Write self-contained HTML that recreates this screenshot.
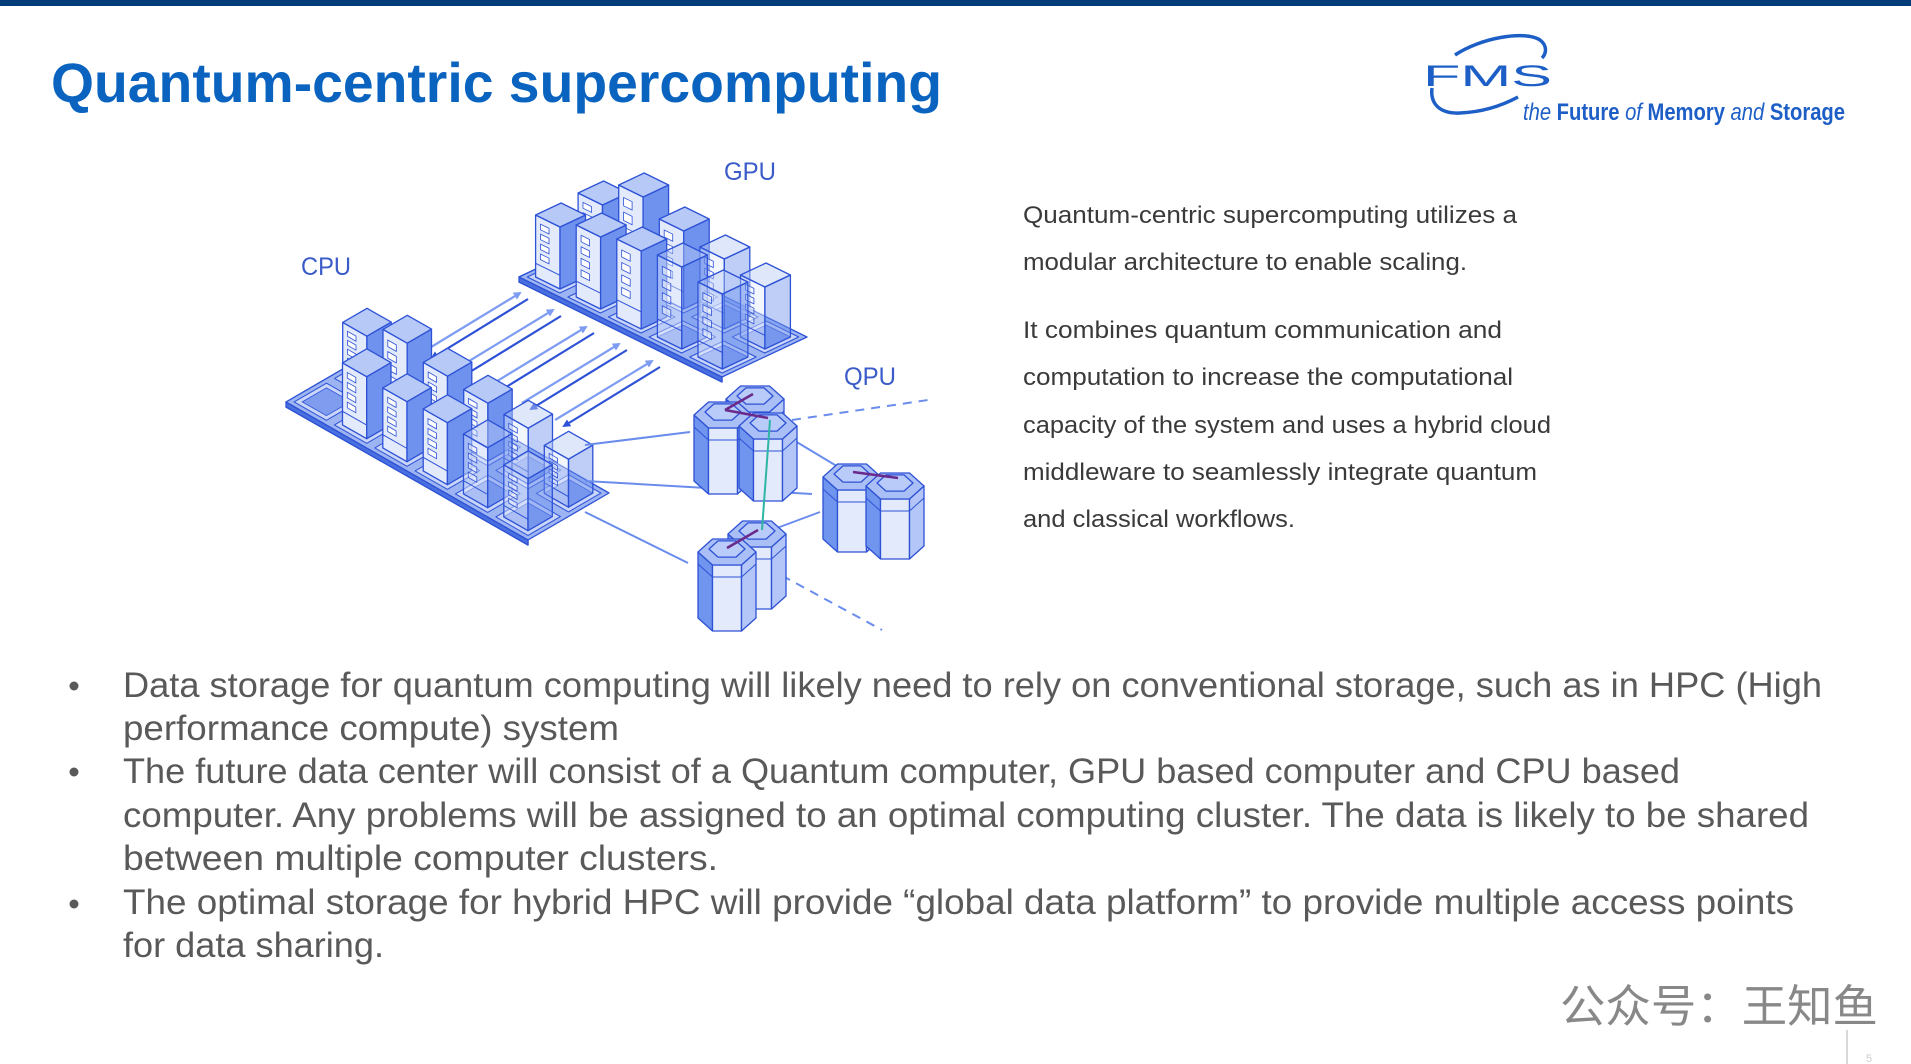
<!DOCTYPE html>
<html><head><meta charset="utf-8"><style>
html,body{margin:0;padding:0;background:#fff;}
svg{display:block;}
</style></head><body>
<svg id="s" width="1911" height="1064" viewBox="0 0 1911 1064" xmlns="http://www.w3.org/2000/svg" font-family="Liberation Sans, sans-serif">
<rect width="1911" height="1064" fill="#fff"/>
<rect x="0" y="0" width="1911" height="6" fill="#003c78"/>
<text x="51" y="102" font-size="56" font-weight="bold" fill="#0a64bf" textLength="891" lengthAdjust="spacingAndGlyphs">Quantum-centric supercomputing</text>
<!-- logo -->
<path d="M1455 55 C1480 38 1525 30 1540 40 C1548 46 1546 54 1542 58" fill="none" stroke="#1d5fc6" stroke-width="3.5"/>
<path d="M1432 88 C1430 104 1440 114 1460 113 C1485 112 1505 104 1518 97" fill="none" stroke="#1d5fc6" stroke-width="3.5"/>
<text x="1423" y="86" font-size="30" fill="#1d5fc6" textLength="129" lengthAdjust="spacingAndGlyphs">FMS</text>
<text x="1523" y="120" font-size="24" fill="#1d5fc6" textLength="322" lengthAdjust="spacingAndGlyphs"><tspan font-style="italic">the </tspan><tspan font-weight="bold">Future </tspan><tspan font-style="italic">of </tspan><tspan font-weight="bold">Memory </tspan><tspan font-style="italic">and </tspan><tspan font-weight="bold">Storage</tspan></text>
<!-- labels -->
<g font-size="25" fill="#3a5bc8">
<text x="724" y="180" textLength="52" lengthAdjust="spacingAndGlyphs">GPU</text>
<text x="301" y="275" textLength="50" lengthAdjust="spacingAndGlyphs">CPU</text>
<text x="844" y="385" textLength="52" lengthAdjust="spacingAndGlyphs">QPU</text>
</g>
<g id="diag"></g>
<!-- right paragraph -->
<g font-size="24" fill="#3a3a3a">
<text x="1023" y="223" textLength="494" lengthAdjust="spacingAndGlyphs">Quantum-centric supercomputing utilizes a</text>
<text x="1023" y="270" textLength="444" lengthAdjust="spacingAndGlyphs">modular architecture to enable scaling.</text>
<text x="1023" y="338" textLength="479" lengthAdjust="spacingAndGlyphs">It combines quantum communication and</text>
<text x="1023" y="385" textLength="490" lengthAdjust="spacingAndGlyphs">computation to increase the computational</text>
<text x="1023" y="433" textLength="528" lengthAdjust="spacingAndGlyphs">capacity of the system and uses a hybrid cloud</text>
<text x="1023" y="480" textLength="514" lengthAdjust="spacingAndGlyphs">middleware to seamlessly integrate quantum</text>
<text x="1023" y="527" textLength="272" lengthAdjust="spacingAndGlyphs">and classical workflows.</text>
</g>
<!-- bullets -->
<g fill="#595959">
<circle cx="74" cy="686" r="4.5"/><circle cx="74" cy="772" r="4.5"/><circle cx="74" cy="904" r="4.5"/>
<g font-size="35">
<text x="123" y="697" textLength="1699" lengthAdjust="spacingAndGlyphs">Data storage for quantum computing will likely need to rely on conventional storage, such as in HPC (High</text>
<text x="123" y="740" textLength="496" lengthAdjust="spacingAndGlyphs">performance compute) system</text>
<text x="123" y="783" textLength="1557" lengthAdjust="spacingAndGlyphs">The future data center will consist of a Quantum computer, GPU based computer and CPU based</text>
<text x="123" y="827" textLength="1686" lengthAdjust="spacingAndGlyphs">computer. Any problems will be assigned to an optimal computing cluster. The data is likely to be shared</text>
<text x="123" y="870" textLength="595" lengthAdjust="spacingAndGlyphs">between multiple computer clusters.</text>
<text x="123" y="914" textLength="1671" lengthAdjust="spacingAndGlyphs">The optimal storage for hybrid HPC will provide “global data platform” to provide multiple access points</text>
<text x="123" y="957" textLength="261" lengthAdjust="spacingAndGlyphs">for data sharing.</text>
</g></g>
<text x="1560" y="1022" font-size="45" fill="#888" font-family="Liberation Sans, Noto Sans CJK SC, sans-serif" textLength="318" lengthAdjust="spacingAndGlyphs">公众号：王知鱼</text>
<line x1="1847" y1="1030" x2="1847" y2="1064" stroke="#ccc" stroke-width="1.5"/>
<text x="1866" y="1062" font-size="11" fill="#ccc">5</text>
</svg>
<script>
var g=document.getElementById('diag'),h='';
var S='#2e52d6';
function P(pts){return pts.map(function(p){return p[0].toFixed(1)+','+p[1].toFixed(1)}).join(' ');}
function poly(pts,fill,op,sw){h+='<polygon points="'+P(pts)+'" fill="'+fill+'" fill-opacity="'+(op==null?1:op)+'" stroke="'+S+'" stroke-width="'+(sw||1.3)+'" stroke-linejoin="round"/>';}
function add(p,v,k){return [p[0]+v[0]*k,p[1]+v[1]*k];}
function platform(L,A,B,nA,nB){
 var c=[L,add(L,A,1),add(add(L,A,1),B,1),add(L,B,1)];
 var d=c.map(function(p){return [p[0],p[1]+5];});
 poly([c[3],c[0],c[1],d[1],d[0],d[3]].slice(0,6),'#5b80e8');
 poly([c[0],c[1],d[1],d[0]],'#4a70e0');
 poly(c,'#9db4f3');
 for(var i=0;i<nA;i++)for(var j=0;j<nB;j++){
  var o=add(add(L,A,i/nA),B,j/nB),a=[A[0]/nA,A[1]/nA],b=[B[0]/nB,B[1]/nB];
  var q=[add(add(o,a,.1),b,.1),add(add(o,a,.9),b,.1),add(add(o,a,.9),b,.9),add(add(o,a,.1),b,.9)];
  poly(q,'#c9d6f9',1,1);
  var r=[add(add(o,a,.2),b,.2),add(add(o,a,.8),b,.2),add(add(o,a,.8),b,.8),add(add(o,a,.2),b,.8)];
  poly(r,'#7f9cef',1,0.8);
 }
}
function tower(c,a,b,H,op){
 var p1=add(add(c,a,-1),b,-1),p2=add(add(c,a,1),b,-1),p3=add(add(c,a,1),b,1),p4=add(add(c,a,-1),b,1);
 function up(p){return [p[0],p[1]-H];}
 poly([p1,p2,up(p2),up(p1)],'#e3eafc',op);
 poly([p2,p3,up(p3),up(p2)],'#6f92ee',op);
 poly([up(p1),up(p2),up(p3),up(p4)],'#b7c9f7',op);
 var k=0.22;
 h+='<line x1="'+p1[0]+'" y1="'+(p1[1]-H*k)+'" x2="'+p2[0]+'" y2="'+(p2[1]-H*k)+'" stroke="'+S+'" stroke-width="1"/>';
 for(var n=0;n<4;n++){var t=0.32+n*0.16;
  var w1=add(p1,[p2[0]-p1[0],p2[1]-p1[1]],0.2),w2=add(p1,[p2[0]-p1[0],p2[1]-p1[1]],0.55);
  h+='<polygon points="'+P([[w1[0],w1[1]-H*t],[w2[0],w2[1]-H*t],[w2[0],w2[1]-H*t-H*0.09],[w1[0],w1[1]-H*t-H*0.09]])+'" fill="#fff" fill-opacity="'+(op||1)+'" stroke="'+S+'" stroke-width="0.8"/>';}
}
function grid(L,A,B,nA,nB,hs,fade){
 var items=[];
 for(var i=0;i<nA;i++)for(var j=0;j<nB;j++){
  var hh=hs[j][i]; if(!hh)continue;
  var a=[A[0]/nA,A[1]/nA],b=[B[0]/nB,B[1]/nB];
  var c=add(add(L,a,i+0.5),b,j+0.5);
  items.push({c:c,a:[a[0]*.3,a[1]*.3],b:[b[0]*.3,b[1]*.3],H:hh,op:i>=fade?0.45:1});
 }
 items.sort(function(x,y){return x.c[1]-y.c[1];});
 items.forEach(function(t){tower(t.c,t.a,t.b,t.H,t.op);});
}
var GL=[519,277],GA=[203,100],GB=[85,-40];
platform(GL,GA,GB,5,2);
grid(GL,GA,GB,5,2,[[62,72,78,82,75],[64,92,78,70,62]],3);
h+='<defs><marker id="ml" markerWidth="8" markerHeight="8" refX="6" refY="4" orient="auto" markerUnits="userSpaceOnUse"><path d="M0,0 L8,4 L0,8Z" fill="#7d9cf2"/></marker><marker id="md" markerWidth="8" markerHeight="8" refX="6" refY="4" orient="auto" markerUnits="userSpaceOnUse"><path d="M0,0 L8,4 L0,8Z" fill="#2e52d6"/></marker></defs>';
for(var k=0;k<5;k++){var dx=k*33,dy=k*17;
 h+='<line x1="'+(423+dx)+'" y1="'+(352+dy)+'" x2="'+(520+dx)+'" y2="'+(293+dy)+'" stroke="#7d9cf2" stroke-width="2.2" marker-end="url(#ml)"/>';
 h+='<line x1="'+(528+dx)+'" y1="'+(299+dy)+'" x2="'+(432+dx)+'" y2="'+(358+dy)+'" stroke="#2e52d6" stroke-width="2.2" marker-end="url(#md)"/>';}
var CL=[286,402],CA=[242,138],CB=[81,-47];
platform(CL,CA,CB,6,2);
grid(CL,CA,CB,6,2,[[0,62,60,62,60,52],[56,72,62,58,56,48]],4);
function ln(x1,y1,x2,y2,c,w,da){h+='<line x1="'+x1+'" y1="'+y1+'" x2="'+x2+'" y2="'+y2+'" stroke="'+c+'" stroke-width="'+w+'"'+(da?' stroke-dasharray="'+da+'"':'')+'/>';}
var LC='#6a8cec';
ln(585,445,690,432,LC,2);ln(585,481,812,494,LC,2);ln(585,512,688,563,LC,2);
ln(790,438,840,468,LC,2);ln(777,528,820,512,LC,2);
ln(792,420,928,400,LC,2,'9,7');ln(768,568,882,630,LC,2,'9,7');
function hex(cx,cy,rx,ry,H){
 var L=[cx-rx,cy],BL=[cx-rx/2,cy+ry],BR=[cx+rx/2,cy+ry],R=[cx+rx,cy],TR=[cx+rx/2,cy-ry],TL=[cx-rx/2,cy-ry];
 function d(p,k){return [p[0],p[1]+k];}
 poly([L,BL,d(BL,H),d(L,H)],'#7095ee');
 poly([BL,BR,d(BR,H),d(BL,H)],'#e3eafc');
 poly([BR,R,d(R,H),d(BR,H)],'#b3c6f7');
 ln(L[0],L[1]+12,BL[0],BL[1]+12,S,1);ln(BL[0],BL[1]+12,BR[0],BR[1]+12,S,1);ln(BR[0],BR[1]+12,R[0],R[1]+12,S,1);
 poly([L,TL,TR,R,BR,BL],'#a9bff5');
 var r2=0.62;
 poly([[cx-rx*r2,cy-3],[cx-rx*r2/2,cy-3-ry*r2],[cx+rx*r2/2,cy-3-ry*r2],[cx+rx*r2,cy-3],[cx+rx*r2/2,cy-3+ry*r2],[cx-rx*r2/2,cy-3+ry*r2]],'#b9cbf8');
}
hex(755,399,29,13,66);hex(723,415,29,13,66);hex(768,426,29,13,62);
hex(852,477,29,13,62);hex(895,486,29,13,60);
hex(757,534,29,13,62);hex(727,552,29,13,66);
ln(753,394,725,410,'#6a2a8c',2.5);ln(725,410,768,418,'#6a2a8c',2.5);
ln(853,472,898,478,'#6a2a8c',2.5);ln(727,548,758,530,'#6a2a8c',2.5);
ln(770,420,762,530,'#2fb5a5',2);
g.innerHTML=h;
</script>
</body></html>
